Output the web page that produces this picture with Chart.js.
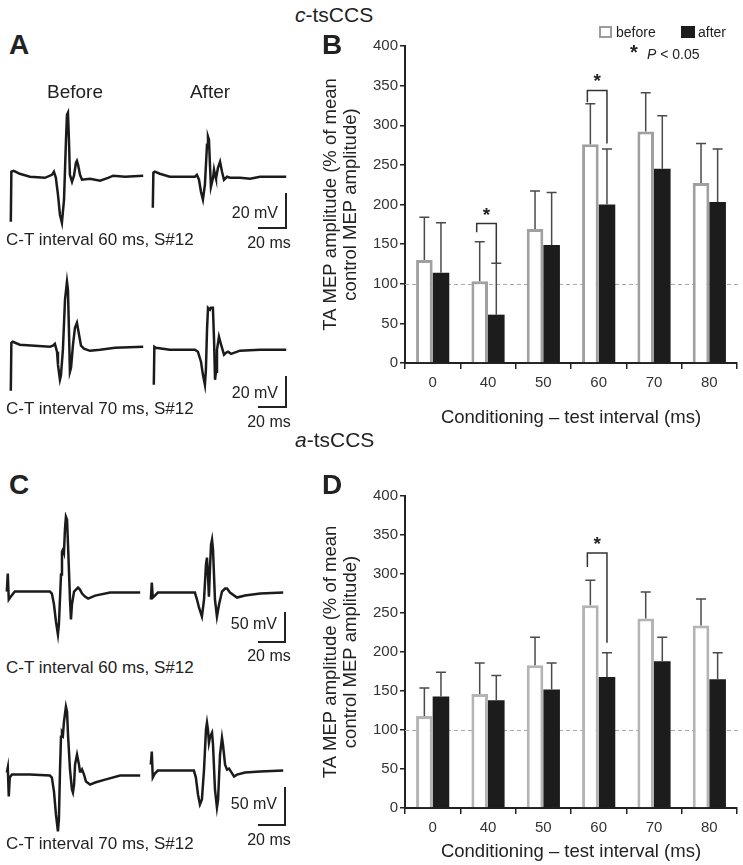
<!DOCTYPE html>
<html>
<head>
<meta charset="utf-8">
<script src="https://cdn.jsdelivr.net/npm/chart.js@4.4.0/dist/chart.umd.min.js"></script>
<style>
  body { margin: 0; background: #fff; }
  #fig { position: relative; width: 743px; height: 865px; overflow: hidden;
         font-family: "Liberation Sans", Arial, sans-serif; color: #222; }
  canvas { position: absolute; }
  .t { position: absolute; white-space: nowrap; line-height: 1; }
  .lbl { font-weight: bold; font-size: 28px; }
  .cap { font-size: 17px; }
  .sc { font-size: 16px; }
  .bar { position: absolute; background: #222; }
</style>
</head>
<body>
<div id="fig">
  <canvas id="traceA1" ></canvas>
  <canvas id="traceA2" ></canvas>
  <canvas id="traceA3" ></canvas>
  <canvas id="traceA4" ></canvas>
  <canvas id="traceC1" ></canvas>
  <canvas id="traceC2" ></canvas>
  <canvas id="traceC3" ></canvas>
  <canvas id="traceC4" ></canvas>
  <canvas id="chartB" width="423" height="400" style="left:320px;top:30px"></canvas>
  <canvas id="chartD" width="423" height="385" style="left:320px;top:480px"></canvas>

  <div class="t" style="left:295px;top:4px;font-size:21px"><i>c</i>-tsCCS</div>
  <div class="t" style="left:295px;top:429px;font-size:21px"><i>a</i>-tsCCS</div>
  <div class="t lbl" style="left:9px;top:31px">A</div>
  <div class="t lbl" style="left:322px;top:31px">B</div>
  <div class="t lbl" style="left:9px;top:471px">C</div>
  <div class="t lbl" style="left:322px;top:471px">D</div>

  <div class="t" style="left:75px;top:82px;font-size:19px;transform:translateX(-50%)">Before</div>
  <div class="t" style="left:210px;top:82px;font-size:19px;transform:translateX(-50%)">After</div>

  <!-- scale bars A -->
  <div class="bar" style="left:285px;top:193px;width:2px;height:36px"></div>
  <div class="bar" style="left:258px;top:227px;width:29px;height:2px"></div>
  <div class="t sc" style="right:465px;top:205px">20 mV</div>
  <div class="t sc" style="left:269px;top:235px;transform:translateX(-50%)">20 ms</div>
  <div class="t cap" style="left:6px;top:231px">C-T interval 60 ms, S#12</div>

  <div class="bar" style="left:285px;top:376px;width:2px;height:32px"></div>
  <div class="bar" style="left:258px;top:406px;width:29px;height:2px"></div>
  <div class="t sc" style="right:465px;top:385px">20 mV</div>
  <div class="t sc" style="left:269px;top:414px;transform:translateX(-50%)">20 ms</div>
  <div class="t cap" style="left:6px;top:400px">C-T interval 70 ms, S#12</div>

  <!-- scale bars C -->
  <div class="bar" style="left:284px;top:612px;width:2px;height:31px"></div>
  <div class="bar" style="left:258px;top:641px;width:28px;height:2px"></div>
  <div class="t sc" style="right:466px;top:616px">50 mV</div>
  <div class="t sc" style="left:269px;top:648px;transform:translateX(-50%)">20 ms</div>
  <div class="t cap" style="left:6px;top:659px">C-T interval 60 ms, S#12</div>

  <div class="bar" style="left:284px;top:787px;width:2px;height:39px"></div>
  <div class="bar" style="left:258px;top:824px;width:28px;height:2px"></div>
  <div class="t sc" style="right:466px;top:796px">50 mV</div>
  <div class="t sc" style="left:269px;top:832px;transform:translateX(-50%)">20 ms</div>
  <div class="t cap" style="left:6px;top:835px">C-T interval 70 ms, S#12</div>

  <!-- legend B -->
  <div style="position:absolute;left:599px;top:26px;width:13px;height:12px;border:2px solid #9c9c9c;box-sizing:border-box"></div>
  <div class="t" style="left:616px;top:25px;font-size:14px">before</div>
  <div style="position:absolute;left:681px;top:26px;width:14px;height:12px;background:#1c1c1c"></div>
  <div class="t" style="left:698px;top:25px;font-size:14px">after</div>
  <div class="t" style="left:630px;top:42px;font-size:20px;font-weight:bold">*</div>
  <div class="t" style="left:647px;top:47px;font-size:14px"><i>P</i> &lt; 0.05</div>
</div>

<script>
// Bar data: conditioning-test intervals (ms)
const intervals = ['0', '40', '50', '60', '70', '80'];

// c-tsCCS, TA MEP amplitude (% of mean control)
const cBefore = [130, 103, 169, 276, 292, 227];
const cAfter = [114, 61, 149, 200, 245, 203];
const cBeforeErr = [184, 153, 217, 327, 341, 277];
const cAfterErr = [177, 126, 215, 270, 312, 270];

// a-tsCCS
const aBefore = [118, 146, 183, 260, 243, 234];
const aAfter = [143, 138, 152, 168, 188, 165];
const aBeforeErr = [154, 186, 219, 292, 277, 268];
const aAfterErr = [174, 170, 186, 199, 219, 199];

// significance brackets: category, bracket top, left leg end, right leg end
const cSig = [{ i: 1, top: 176, left: 165, right: 126 }, { i: 3, top: 344, left: 329, right: 277 }];
const aSig = [{ i: 3, top: 327, left: 309, right: 212 }];

// MEP traces: time (ms) and amplitude (mV) relative to baseline
const a60BeforeT = [0, 0.4, 2.1, 6.4, 13.6, 24.3, 29.3, 30.7, 32.1, 33.6, 35, 36.4, 37.9, 39.3, 40, 40.7, 41.4, 42.1, 43.6, 45, 46.4, 47.1, 47.9, 49.3, 50.7, 56.4, 63.6, 69.3, 72.9, 81.4, 94.3];
const a60BeforeV = [-25.7, 2.9, 3.4, 1.7, 0, -0.6, 1.1, 2.9, -0.6, -10.3, -21.7, -26.3, -13.1, 21.1, 35.4, 36.6, 21.1, 1.1, -2.9, 0.6, 8, 9.1, 6.9, 1.1, -1.7, -1.1, -2.3, -0.6, 0.6, 0, 0.6];
const a60AfterT = [0, 0.4, 1.4, 5, 12.1, 30, 31.4, 32.9, 34.3, 35.7, 37.1, 38.6, 39.3, 40, 40.7, 41.4, 42.9, 43.6, 44.3, 45, 46.4, 47.9, 49.3, 50.7, 52.9, 55, 62.1, 69.3, 76.4, 95];
const a60AfterV = [-17.7, 2.3, 2.9, 1.7, 0, 0, 1.1, -1.7, -8.6, -13.1, -4.6, 18.3, 22.9, 21.1, 6.9, -5.7, -0.6, 4, 1.1, -1.1, 5.1, 8.6, 2.9, -1.7, 0, -0.6, -0.6, -1.1, 0, 0];
const a70BeforeT = [0, 0.4, 1.4, 6.4, 17.1, 27.9, 30, 31.4, 32.9, 33.6, 35, 35.7, 37.1, 38.6, 40, 40.7, 41.4, 42.1, 42.9, 44.3, 45.7, 47.1, 48.6, 50, 52.1, 56.4, 63.6, 74.3, 94.3];
const a70BeforeV = [-25.7, 1.7, 2.3, 0.6, 0, -0.6, 0, 1.1, -3.4, -10.9, -19.4, -17.1, -2.3, 26.3, 36.6, 32, 9.1, -14.9, -12.6, 0.6, 10.3, 13.1, 6.3, 0, -1.7, -2.9, -2.3, -1.1, -0.6];
const a70AfterT = [0, 0.4, 1.4, 11.4, 29.3, 31.4, 33.6, 35, 36.4, 37.1, 37.9, 38.6, 40, 40.7, 42.1, 42.9, 43.6, 44.3, 45, 46.4, 47.9, 50, 51.4, 52.9, 55, 61.4, 75.7, 94.3];
const a70AfterV = [-20.6, 1.1, 0.6, -0.6, -0.6, -1.7, -7.4, -14.9, -20.6, -12, 10.9, 23.4, 22.3, 23.4, 23.4, 5.1, -17.7, -13.1, -0.6, 6.9, 2.3, -3.4, -2.3, -1.7, -2.9, -1.1, -0.6, -0.6];

const c60BeforeT = [0, 0.7, 1.4, 2.9, 5.7, 16.4, 30.7, 32.1, 33.6, 35, 36.4, 37.1, 38.6, 39.3, 40, 40.7, 41.4, 42.1, 42.9, 43.6, 45, 45.7, 46.4, 47.9, 49.3, 50.7, 52.1, 53.6, 55.7, 57.9, 62.9, 73.6, 95];
const c60BeforeV = [0, 23.7, -10.5, -6.6, 0, 0, 0, -2.6, -17.1, -39.5, -56.6, -43.4, 22.4, 52.6, 55.3, 51.3, 81.6, 98.7, 94.7, 61.8, -10.5, -36.8, -17.1, 0, 2.6, 5.3, 2.6, -2.6, -6.6, -9.2, -5.3, -1.3, -1.3];
const c60AfterT = [0, 0.7, 1.4, 2.9, 5, 31.4, 32.9, 34.3, 36.4, 37.9, 39.3, 40, 40.7, 41.4, 42.1, 42.9, 43.6, 44.3, 45.7, 47.1, 48.6, 50.7, 52.9, 54.3, 56.4, 61.4, 67.1, 77.9, 94.3];
const c60AfterV = [-9.2, 13.2, -6.6, -3.9, 0, 0, -9.2, -19.7, -31.6, -9.2, 36.8, 46.1, 23.7, -5.3, 30.3, 63.2, 69.7, 56.6, -9.2, -31.6, -15.8, 1.3, 5.3, 5.3, 0, -6.6, -3.9, -1.3, 0];
const c70BeforeT = [0, 0.7, 1.4, 2.1, 3.6, 16.4, 30.7, 32.1, 33.6, 35, 36.4, 37.1, 37.9, 38.6, 39.3, 40, 40.7, 42.1, 42.9, 43.6, 45, 46.4, 47.1, 47.9, 48.6, 50, 51.4, 52.1, 52.9, 53.6, 55, 56.4, 59.3, 62.9, 70, 80.7, 95];
const c70BeforeV = [2.6, 9.2, -28.9, -3.9, 0, 0, -1.3, -3.9, -22.4, -52.6, -75, -59.2, 6.6, 50, 55.3, 52.6, 69.7, 89.5, 82.9, 52.6, 6.6, -19.7, -23.7, -13.2, 13.2, 26.3, 13.2, 3.9, 3.9, 6.6, 0, -9.2, -13.2, -10.5, -6.6, -1.3, -1.3];
const c70AfterT = [0, 0.7, 1.4, 2.9, 5, 30.7, 32.1, 33.6, 35, 36.4, 37.9, 39.3, 40, 40.7, 41.4, 42.1, 42.9, 43.6, 44.3, 45.7, 47.1, 47.9, 49.3, 50.7, 51.4, 52.9, 54.3, 55.7, 57.1, 59.3, 61.4, 67.1, 77.9, 94.3];
const c70AfterV = [7.9, 25, -9.2, -3.9, 0, 0, -9.2, -31.6, -44.7, -38.2, 1.3, 53.9, 63.2, 53.9, 36.8, 43.4, 47.4, 50, 34.2, -25, -48.7, -38.2, 21.1, 43.4, 34.2, 7.9, 1.3, 2.6, -1.3, -7.9, -5.3, -2.6, -1.3, 0];

Chart.defaults.font.family = '"Liberation Sans", Arial, sans-serif';
Chart.defaults.color = '#333';
Chart.defaults.animation = false;

// trace panels: where each recording sits on the page
const msPx = 1.4;
const tRange = [-2, 97];
const panelA = { mvPx: 1.75, v: [-35, 45] };
const panelC = { mvPx: 0.76, v: [-85, 105] };

function traceChart(id, t, mv, panel, x0, y0) {
    const el = document.getElementById(id);
    el.width = Math.round((tRange[1] - tRange[0]) * msPx);
    el.height = Math.round((panel.v[1] - panel.v[0]) * panel.mvPx);
    el.style.left = (x0 + tRange[0] * msPx) + 'px';
    el.style.top = (y0 - panel.v[1] * panel.mvPx) + 'px';
    new Chart(el, {
        type: 'line',
        data: {
            datasets: [{
                data: t.map((x, k) => ({ x: x, y: mv[k] })),
                borderColor: '#1b1b1b',
                borderWidth: 2.5,
                pointRadius: 0,
                tension: 0,
                clip: false
            }]
        },
        options: {
            responsive: false,
            plugins: { legend: { display: false }, tooltip: { enabled: false } },
            scales: {
                x: { type: 'linear', display: false, min: tRange[0], max: tRange[1] },
                y: { display: false, min: panel.v[0], max: panel.v[1] }
            }
        }
    });
}

traceChart('traceA1', a60BeforeT, a60BeforeV, panelA, 11, 177);
traceChart('traceA2', a60AfterT, a60AfterV, panelA, 153, 177);
traceChart('traceA3', a70BeforeT, a70BeforeV, panelA, 11, 346);
traceChart('traceA4', a70AfterT, a70AfterV, panelA, 154, 349);
traceChart('traceC1', c60BeforeT, c60BeforeV, panelC, 7, 592);
traceChart('traceC2', c60AfterT, c60AfterV, panelC, 151, 593);
traceChart('traceC3', c70BeforeT, c70BeforeV, panelC, 7, 775);
traceChart('traceC4', c70AfterT, c70AfterV, panelC, 151, 771);

function barChart(id, before, after, beforeErr, afterErr, sig, edge, axisH, titlePad) {
    const errs = [beforeErr, afterErr];
    const overlay = {
        id: 'overlay',
        beforeDatasetsDraw(chart) {
            const { ctx, chartArea, scales: { y } } = chart;
            const py = Math.round(y.getPixelForValue(100)) + 0.5;
            ctx.save();
            ctx.strokeStyle = '#aaa';
            ctx.lineWidth = 1;
            ctx.setLineDash([4, 3]);
            ctx.beginPath();
            ctx.moveTo(chartArea.left, py);
            ctx.lineTo(chart.width - 2, py);
            ctx.stroke();
            ctx.restore();
        },
        afterDatasetsDraw(chart) {
            const { ctx, scales: { y } } = chart;
            ctx.save();
            ctx.strokeStyle = '#4a4a4a';
            ctx.lineWidth = 1.5;
            errs.forEach((err, d) => {
                chart.getDatasetMeta(d).data.forEach((bar, k) => {
                    const top = y.getPixelForValue(err[k]);
                    ctx.beginPath();
                    ctx.moveTo(bar.x, bar.y);
                    ctx.lineTo(bar.x, top);
                    ctx.moveTo(bar.x - 5, top);
                    ctx.lineTo(bar.x + 5, top);
                    ctx.stroke();
                });
            });
            ctx.strokeStyle = '#333';
            ctx.fillStyle = '#222';
            ctx.font = 'bold 19px "Liberation Sans", Arial, sans-serif';
            ctx.textAlign = 'center';
            sig.forEach(s => {
                const xl = chart.getDatasetMeta(0).data[s.i].x - 3;
                const xr = chart.getDatasetMeta(1).data[s.i].x;
                const yt = y.getPixelForValue(s.top);
                ctx.beginPath();
                ctx.moveTo(xl, y.getPixelForValue(s.left));
                ctx.lineTo(xl, yt);
                ctx.lineTo(xr, yt);
                ctx.lineTo(xr, y.getPixelForValue(s.right));
                ctx.stroke();
                ctx.fillText('*', (xl + xr) / 2, yt - 3);
            });
            ctx.restore();
        }
    };

    new Chart(document.getElementById(id), {
        type: 'bar',
        data: {
            labels: intervals,
            datasets: [
                { label: 'before', data: before, backgroundColor: '#fff', borderColor: edge, borderWidth: 3 },
                { label: 'after', data: after, backgroundColor: '#1c1c1c', borderWidth: 0 }
            ]
        },
        options: {
            responsive: false,
            layout: { padding: { top: 16, right: 6 } },
            datasets: { bar: { categoryPercentage: 0.6, barPercentage: 1 } },
            plugins: { legend: { display: false }, tooltip: { enabled: false } },
            scales: {
                x: {
                    afterFit: s => { s.height = axisH; },
                    grid: { drawOnChartArea: false, tickLength: 6, color: '#222', lineWidth: 1.5 },
                    border: { color: '#222', width: 2 },
                    ticks: { font: { size: 15 }, padding: 5, color: '#333' },
                    title: { display: true, text: 'Conditioning \u2013 test interval (ms)', font: { size: 18.5 }, color: '#222', padding: { top: 4, bottom: titlePad } }
                },
                y: {
                    min: 0, max: 400,
                    afterFit: s => { s.width = 85; },
                    grid: { drawOnChartArea: false, tickLength: 5, color: '#222', lineWidth: 1.5 },
                    border: { color: '#222', width: 2 },
                    ticks: { stepSize: 50, font: { size: 15 }, padding: 2, color: '#333' },
                    title: {
                        display: true,
                        text: ['TA MEP amplitude (% of mean', 'control MEP amplitude)'],
                        font: { size: 18.5, lineHeight: 1.08 }, color: '#222',
                        padding: { top: 1, bottom: 0 }
                    }
                }
            }
        },
        plugins: [overlay]
    });
}

barChart('chartB', cBefore, cAfter, cBeforeErr, cAfterErr, cSig, '#a0a0a0', 67, 1);
barChart('chartD', aBefore, aAfter, aBeforeErr, aAfterErr, aSig, '#b4b4b4', 57, 2);
</script>
</body>
</html>
